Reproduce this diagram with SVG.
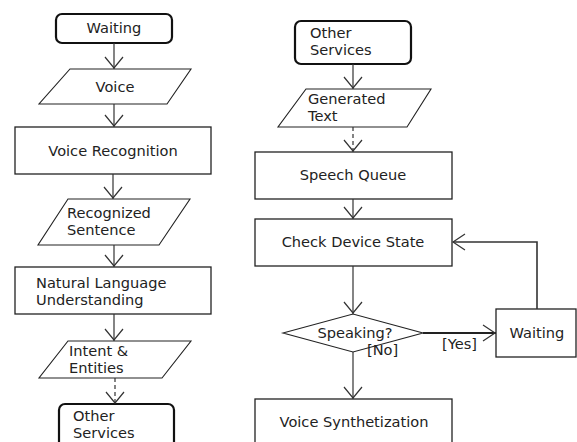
<svg xmlns="http://www.w3.org/2000/svg" width="577" height="442" viewBox="0 0 577 442">
  <style>
    .bg { fill: #ffffff; }
    .box { fill: #ffffff; stroke: #222; stroke-width: 1.3; }
    .term { fill: #ffffff; stroke: #111; stroke-width: 2.2; }
    .io { fill: #ffffff; stroke: #222; stroke-width: 1.1; }
    .line { fill: none; stroke: #333; stroke-width: 1.2; }
    .dash { fill: none; stroke: #333; stroke-width: 1.2; stroke-dasharray: 4 3; }
    .bold { fill: none; stroke: #222; stroke-width: 2.2; }
    .head { fill: none; stroke: #333; stroke-width: 1.2; }
    text { font-family: "DejaVu Sans", "Liberation Sans", sans-serif; font-size: 14.6px; fill: #222; }
    .c { text-anchor: middle; }
  </style>

  <rect class="bg" x="0" y="0" width="577" height="442"/>

  <!-- left column -->
  <g id="waiting-start">
    <rect class="term" x="56" y="14" width="116" height="29" rx="6"/>
    <text class="c" x="114" y="33">Waiting</text>
  </g>
  <g id="voice">
    <polygon class="io" points="70,69 191,69 167,104 39,104"/>
    <text class="c" x="115" y="92">Voice</text>
  </g>
  <g id="voice-recognition">
    <rect class="box" x="15" y="127" width="196" height="47"/>
    <text class="c" x="113" y="156">Voice Recognition</text>
  </g>
  <g id="recognized-sentence">
    <polygon class="io" points="68,199 190,199 159,245 38,245"/>
    <text x="67" y="218">Recognized</text>
    <text x="67" y="235">Sentence</text>
  </g>
  <g id="nlu">
    <rect class="box" x="15" y="267" width="196" height="47"/>
    <text x="36" y="288">Natural Language</text>
    <text x="36" y="305">Understanding</text>
  </g>
  <g id="intent-entities">
    <polygon class="io" points="68,341 191,341 162,378 39,378"/>
    <text x="69" y="356">Intent &amp;</text>
    <text x="69" y="373">Entities</text>
  </g>
  <g id="other-services-out">
    <rect class="term" x="59" y="404" width="115" height="50" rx="6"/>
    <text x="73" y="421">Other</text>
    <text x="73" y="438">Services</text>
  </g>

  <!-- right column -->
  <g id="other-services-in">
    <rect class="term" x="295" y="21" width="116" height="43" rx="6"/>
    <text x="310" y="38">Other</text>
    <text x="310" y="55">Services</text>
  </g>
  <g id="generated-text">
    <polygon class="io" points="306,89 431,89 407,127 278,127"/>
    <text x="308" y="104">Generated</text>
    <text x="308" y="121">Text</text>
  </g>
  <g id="speech-queue">
    <rect class="box" x="255" y="152" width="197" height="47"/>
    <text class="c" x="353" y="180">Speech Queue</text>
  </g>
  <g id="check-device-state">
    <rect class="box" x="255" y="219" width="197" height="47"/>
    <text class="c" x="353" y="247">Check Device State</text>
  </g>
  <g id="speaking">
    <polygon class="io" points="283,333 353,314 423,333 353,352"/>
    <text class="c" x="355" y="338">Speaking?</text>
  </g>
  <g id="waiting-loop">
    <rect class="box" x="496" y="309" width="80" height="48"/>
    <text class="c" x="537" y="338">Waiting</text>
  </g>
  <g id="voice-synthetization">
    <rect class="box" x="255" y="399" width="197" height="50"/>
    <text class="c" x="354" y="427">Voice Synthetization</text>
  </g>

  <!-- connectors -->
  <g id="connectors">
    <path class="line" d="M114,43 V69"/>
    <path class="head" d="M105,57 L114,68 L123,57"/>
    <path class="line" d="M114,104 V127"/>
    <path class="head" d="M105,115 L114,126 L123,115"/>
    <path class="line" d="M113,174 V199"/>
    <path class="head" d="M104,187 L113,198 L122,187"/>
    <path class="line" d="M114,245 V267"/>
    <path class="head" d="M105,255 L114,266 L123,255"/>
    <path class="line" d="M114,314 V341"/>
    <path class="head" d="M105,329 L114,340 L123,329"/>
    <path class="dash" d="M115,378 V404"/>
    <path class="head" d="M106,392 L115,403 L124,392"/>

    <path class="line" d="M353,64 V89"/>
    <path class="head" d="M344,77 L353,88 L362,77"/>
    <path class="dash" d="M353,127 V152"/>
    <path class="head" d="M344,140 L353,151 L362,140"/>
    <path class="line" d="M353,199 V219"/>
    <path class="head" d="M344,207 L353,218 L362,207"/>
    <path class="line" d="M353,266 V314"/>
    <path class="head" d="M344,302 L353,313 L362,302"/>
    <path class="line" d="M353,352 V399"/>
    <path class="head" d="M344,387 L353,398 L362,387"/>

    <path class="bold" d="M423,333 H496"/>
    <path class="head" d="M483,325 L495,333 L483,341"/>
    <path class="line" d="M537,309 V242 H453" style="stroke-width:1.6"/>
    <path class="head" d="M465,234 L453,242 L465,250"/>

    <text x="367" y="355">[No]</text>
    <text x="442" y="349">[Yes]</text>
  </g>
</svg>
